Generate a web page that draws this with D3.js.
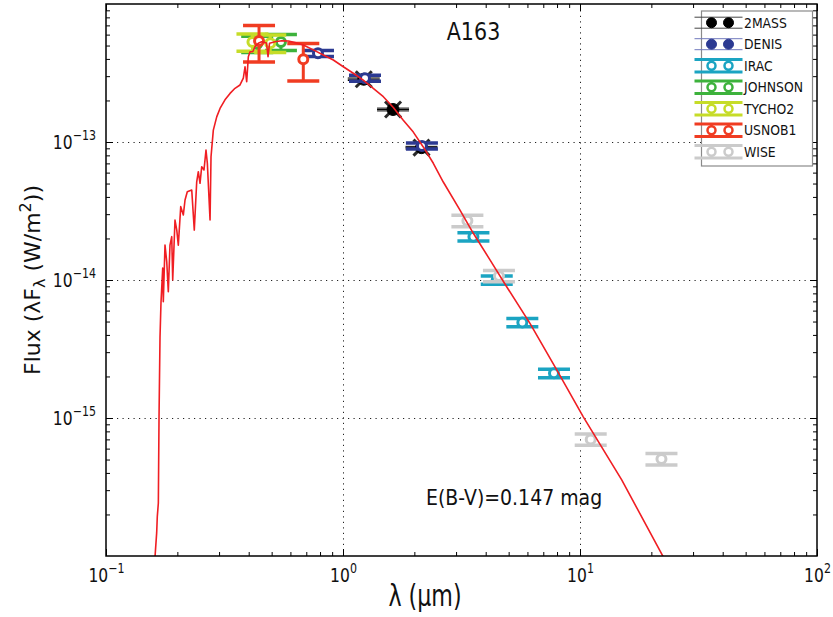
<!DOCTYPE html>
<html><head><meta charset="utf-8">
<script src="https://cdn.jsdelivr.net/npm/d3@7"></script>
<style>
body{margin:0;background:#fff;}
svg{display:block;font-family:"DejaVu Sans",sans-serif;}
</style></head><body>
<svg id="chart" width="833" height="617"></svg>
<script>
// Model SED: wavelength (µm) and λFλ (W/m²)
const modelWave = [0.1604,0.1636,0.1646,0.1663,0.1674,0.1690,0.1706,0.1735,0.1745,0.1774,0.1804,0.1832,0.1862,0.1894,0.1912,0.1955,0.1989,0.2019,0.2067,0.2120,0.2155,0.2203,0.2300,0.2358,0.2414,0.2452,0.2493,0.2534,0.2591,0.2642,0.2677,0.2748,0.2774,0.2837,0.2932,0.3028,0.3177,0.3337,0.3502,0.3676,0.3797,0.3860,0.3923,0.3986,0.4053,0.4161,0.4253,0.4391,0.4540,0.4756,0.4827,0.4897,0.5165,0.5515,0.5880,0.6274,0.6802,0.7494,0.8261,0.9102,1.0031,1.1052,1.2178,1.3420,1.4797,1.6308,1.7963,1.9800,2.1810,2.4050,2.6491,3.1164,3.5466,4.1705,4.9048,6.1506,7.9771,10.3245,14.9968,23.058];
const modelFlux = [9.0e-17,1.47e-16,1.93e-16,2.42e-16,1.02e-15,3.86e-15,6.81e-15,1.22e-14,6.96e-15,1.79e-14,1.36e-14,8.23e-15,1.79e-14,2.06e-14,1.0e-14,2.72e-14,2.30e-14,1.79e-14,3.40e-14,2.96e-14,3.80e-14,4.36e-14,4.49e-14,2.30e-14,5.15e-14,6.09e-14,5.02e-14,6.62e-14,6.27e-14,8.75e-14,7.01e-14,2.72e-14,7.82e-14,1.22e-13,1.52e-13,1.75e-13,2.02e-13,2.25e-13,2.45e-13,2.59e-13,2.90e-13,3.51e-13,2.74e-13,4.15e-13,4.51e-13,4.51e-13,4.91e-13,5.19e-13,5.33e-13,5.21e-13,4.15e-13,5.19e-13,5.33e-13,5.42e-13,5.40e-13,5.25e-13,5.05e-13,4.65e-13,4.27e-13,3.93e-13,3.51e-13,3.15e-13,2.81e-13,2.45e-13,2.13e-13,1.78e-13,1.44e-13,1.18e-13,9.21e-14,7.01e-14,5.13e-14,3.21e-14,2.18e-14,1.40e-14,8.93e-15,4.85e-15,2.23e-15,1.02e-15,3.56e-16,9.06e-17];

// Photometry per catalogue: wavelength (µm), flux and 1σ error (W/m²)
const bandNames = ["2MASS","DENIS","IRAC","JOHNSON","TYCHO2","USNOB1","WISE"];
const twomassWave = [1.2237, 1.626, 2.1434];
const twomassFlux = [2.85e-13, 1.72e-13, 9.1e-14];
const twomassErr  = [6e-15, 4e-15, 2e-15];
const denisWave = [0.7842, 1.2382, 2.153];
const denisFlux = [4.39e-13, 2.9e-13, 9.35e-14];
const denisErr  = [2.2e-14, 1.45e-14, 4.7e-15];
const iracWave = [3.5505, 4.4537, 5.7101, 7.7669];
const iracFlux = [2.06e-14, 1.0e-14, 4.93e-15, 2.11e-15];
const iracErr  = [1.4e-15, 7e-16, 3.4e-16, 1.5e-16];
const johnsonWave = [0.4345, 0.5471];
const johnsonFlux = [5.15e-13, 5.3e-13];
const johnsonErr  = [7e-14, 7e-14];
const tychoWave = [0.4149, 0.4932];
const tychoFlux = [5.3e-13, 5.2e-13];
const tychoErr  = [7.5e-14, 7.5e-14];
const usnoWave = [0.4423, 0.6799];
const usnoFlux = [5.4e-13, 3.97e-13];
const usnoErr  = [1.6e-13, 1.2e-13];
const wiseWave = [3.3484, 4.5497, 11.0963, 22.0637];
const wiseFlux = [2.69e-14, 1.07e-14, 7.0e-16, 5.05e-16];
const wiseErr  = [2.6e-15, 1.0e-15, 6.5e-17, 4.8e-17];

// Axis ticks
const xLabelTicks = [0.1, 1, 10, 100];
const yLabelTicks = [1e-15, 1e-14, 1e-13];
const xGridTicks = [1, 10];
const yGridTicks = [1e-15, 1e-14, 1e-13];
const xMinorTicks = [];
for (let k = -1; k <= 1; k++) for (let m = 2; m <= 9; m++) xMinorTicks.push(m * Math.pow(10, k));
const yMinorTicks = [];
for (let k = -16; k <= -13; k++) for (let m = 2; m <= 9; m++) yMinorTicks.push(m * Math.pow(10, k));

const titleText = "A163";
const extinctionText = "E(B-V)=0.147 mag";

const series = [
  {name: "2MASS",   wave: twomassWave, flux: twomassFlux, err: twomassErr},
  {name: "DENIS",   wave: denisWave,   flux: denisFlux,   err: denisErr},
  {name: "IRAC",    wave: iracWave,    flux: iracFlux,    err: iracErr},
  {name: "JOHNSON", wave: johnsonWave, flux: johnsonFlux, err: johnsonErr},
  {name: "TYCHO2",  wave: tychoWave,   flux: tychoFlux,   err: tychoErr},
  {name: "USNOB1",  wave: usnoWave,    flux: usnoFlux,    err: usnoErr},
  {name: "WISE",    wave: wiseWave,    flux: wiseFlux,    err: wiseErr}
];

const style = {
  "2MASS":  {color: "#000000", filled: true, thin: true, cross: "#2a2a2a", legendLine: "#444444"},
  "DENIS":  {color: "#2c3a92", filled: false, legendFilled: true, legendLine: "#7179bd"},
  "IRAC":   {color: "#1ba4c2"},
  "JOHNSON":{color: "#3db23c"},
  "TYCHO2": {color: "#c6dc28"},
  "USNOB1": {color: "#f03c22"},
  "WISE":   {color: "#cbcbcb"}
};

const L = 106, R = 817, T = 4, B = 556;
const svg = d3.select("#chart");
const x = d3.scaleLog().domain([0.1, 100]).range([L, R]);
const y = d3.scaleLog().domain([1e-16, 1e-12]).range([B, T]);

svg.append("defs").append("clipPath").attr("id", "plotClip")
  .append("rect").attr("x", L).attr("y", T).attr("width", R - L).attr("height", B - T);

// dotted grid
const grid = svg.append("g");
grid.append("g").attr("transform", `translate(0,${B})`)
  .call(d3.axisBottom(x).tickValues(xGridTicks).tickSize(-(B - T)).tickFormat(""));
grid.append("g").attr("transform", `translate(${L},0)`)
  .call(d3.axisLeft(y).tickValues(yGridTicks).tickSize(-(R - L)).tickFormat(""));
grid.selectAll(".domain").remove();
grid.selectAll("line").attr("stroke", "#222").attr("stroke-width", 1).attr("stroke-dasharray", "1.2,4.3");

// photometry
const plot = svg.append("g").attr("clip-path", "url(#plotClip)");
const CAP = 16;
series.forEach(s => {
  const st = style[s.name];
  const g = plot.append("g");
  s.wave.forEach((w, i) => {
    const cx = x(w), cy = y(s.flux[i]);
    const yt = y(s.flux[i] + s.err[i]), yb = y(s.flux[i] - s.err[i]);
    const lw = st.thin ? 1 : 3.5;
    if (st.cross) {
      [[-1, -1, 1, 1], [-1, 1, 1, -1]].forEach(c => {
        g.append("line").attr("x1", cx + c[0] * 8).attr("y1", cy + c[1] * 8)
          .attr("x2", cx + c[2] * 8).attr("y2", cy + c[3] * 8)
          .attr("stroke", st.cross).attr("stroke-width", 3);
      });
    }
    g.append("line").attr("x1", cx).attr("x2", cx).attr("y1", yt).attr("y2", yb)
      .attr("stroke", st.color).attr("stroke-width", st.thin ? 1 : 3);
    [yt, yb].concat(st.thin ? [cy] : []).forEach(yy => {
      g.append("line").attr("x1", cx - CAP).attr("x2", cx + CAP).attr("y1", yy).attr("y2", yy)
        .attr("stroke", st.color).attr("stroke-width", lw);
    });
    g.append("circle").attr("cx", cx).attr("cy", cy).attr("r", st.filled ? 6 : 4.5)
      .attr("fill", st.filled ? st.color : "#fff")
      .attr("stroke", st.color).attr("stroke-width", st.filled ? 1 : 3);
  });
});

// model spectrum
const model = modelWave.map((w, i) => [w, modelFlux[i]]);
plot.append("path").datum(model)
  .attr("d", d3.line().x(d => x(d[0])).y(d => y(d[1])))
  .attr("fill", "none").attr("stroke", "#f01e23").attr("stroke-width", 1.6)
  .attr("stroke-linejoin", "round");

// axes: inward ticks on all four sides
function tidy(g) {
  g.select(".domain").remove();
  g.selectAll("line").attr("stroke", "#000").attr("stroke-width", 1);
}
function powerLabels(sel) {
  sel.each(function(d) {
    const t = d3.select(this);
    const p = Math.round(Math.log10(d));
    t.text(null);
    t.append("tspan").text("10");
    t.append("tspan").attr("dy", -9).attr("font-size", 13.5).text(p < 0 ? "\u2212" + (-p) : String(p));
  });
}
const SX = 0.82;

const xb = svg.append("g").attr("transform", `translate(0,${B})`)
  .call(d3.axisBottom(x).tickValues(xLabelTicks).tickSize(-7));
tidy(xb);
xb.selectAll("text").attr("y", 26).attr("dy", null).attr("font-size", 19)
  .attr("font-family", "DejaVu Sans").attr("fill", "#111")
  .attr("transform", `scale(${SX},1)`).call(powerLabels);
svg.append("g").attr("transform", `translate(0,${B})`)
  .call(d3.axisBottom(x).tickValues(xMinorTicks).tickSize(-4).tickFormat("")).call(tidy);

const yl = svg.append("g").attr("transform", `translate(${L},0)`)
  .call(d3.axisLeft(y).tickValues(yLabelTicks).tickSize(-7));
tidy(yl);
yl.selectAll("text").attr("x", -10 / SX).attr("dy", "0.35em").attr("font-size", 19)
  .attr("font-family", "DejaVu Sans").attr("fill", "#111")
  .attr("transform", `scale(${SX},1)`).call(powerLabels);
svg.append("g").attr("transform", `translate(${L},0)`)
  .call(d3.axisLeft(y).tickValues(yMinorTicks).tickSize(-4).tickFormat("")).call(tidy);

svg.append("g").attr("transform", `translate(0,${T})`)
  .call(d3.axisTop(x).tickValues(xLabelTicks).tickSize(-7).tickFormat("")).call(tidy);
svg.append("g").attr("transform", `translate(0,${T})`)
  .call(d3.axisTop(x).tickValues(xMinorTicks).tickSize(-4).tickFormat("")).call(tidy);
svg.append("g").attr("transform", `translate(${R},0)`)
  .call(d3.axisRight(y).tickValues(yLabelTicks).tickSize(-7).tickFormat("")).call(tidy);
svg.append("g").attr("transform", `translate(${R},0)`)
  .call(d3.axisRight(y).tickValues(yMinorTicks).tickSize(-4).tickFormat("")).call(tidy);

svg.append("rect").attr("x", L).attr("y", T).attr("width", R - L).attr("height", B - T)
  .attr("fill", "none").attr("stroke", "#000").attr("stroke-width", 1.5);

// axis titles
svg.append("text").attr("transform", "translate(425,606) scale(0.74,1)")
  .attr("text-anchor", "middle").attr("font-size", 30).attr("fill", "#111")
  .text("\u03bb (\u03bcm)");
const ylab = svg.append("text").attr("transform", "translate(40,280) rotate(-90)")
  .attr("text-anchor", "middle").attr("font-size", 22).attr("fill", "#111");
ylab.append("tspan").text("Flux (\u03bbF");
ylab.append("tspan").attr("font-size", 16).attr("dy", 5).text("\u03bb");
ylab.append("tspan").attr("dy", -5).text(" (W/m");
ylab.append("tspan").attr("font-size", 16).attr("dy", -9).text("2");
ylab.append("tspan").attr("dy", 9).text("))");

// annotations
svg.append("text").attr("transform", "translate(473.5,40) scale(0.86,1)")
  .attr("text-anchor", "middle").attr("font-size", 24).attr("fill", "#111").text(titleText);
svg.append("text").attr("transform", "translate(426,505) scale(0.9,1)")
  .attr("font-size", 21).attr("fill", "#111").text(extinctionText);

// legend
const boxR = R - 4.5, boxL = boxR - 111, boxT = 11, boxB = 166;
const leg = svg.append("g");
leg.append("rect").attr("x", boxL).attr("y", boxT).attr("width", boxR - boxL).attr("height", boxB - boxT)
  .attr("fill", "#fff").attr("stroke", "#8a8a8a").attr("stroke-width", 1.2);
const hx = boxL - 7;
bandNames.forEach((name, i) => {
  const st = style[name];
  const ry = 22.7 + i * 21.5;
  const g = leg.append("g");
  const thin = !!st.thin || !!st.legendFilled;
  const filled = !!st.filled || !!st.legendFilled;
  const mx = [hx + 17, hx + 34];
  const dy = thin ? 5.5 : 6.3;
  if (!thin) {
    mx.forEach(m => g.append("line").attr("x1", m).attr("x2", m).attr("y1", ry - dy).attr("y2", ry + dy)
      .attr("stroke", st.color).attr("stroke-width", 2.5));
  }
  [ry - dy, ry + dy].forEach(yy => {
    g.append("line").attr("x1", hx).attr("x2", hx + 48).attr("y1", yy).attr("y2", yy)
      .attr("stroke", thin ? st.legendLine : st.color).attr("stroke-width", thin ? 1 : 3);
  });
  mx.forEach(m => g.append("circle").attr("cx", m).attr("cy", ry).attr("r", filled ? 5 : 4)
    .attr("fill", filled ? st.color : "#fff").attr("stroke", st.color).attr("stroke-width", filled ? 1 : 2.5));
  g.append("text").attr("transform", `translate(${boxL + 42.5},${ry}) scale(0.92,1)`)
    .attr("dy", "0.36em").attr("font-size", 13.5).attr("fill", "#111").text(name);
});
</script>
</body></html>
